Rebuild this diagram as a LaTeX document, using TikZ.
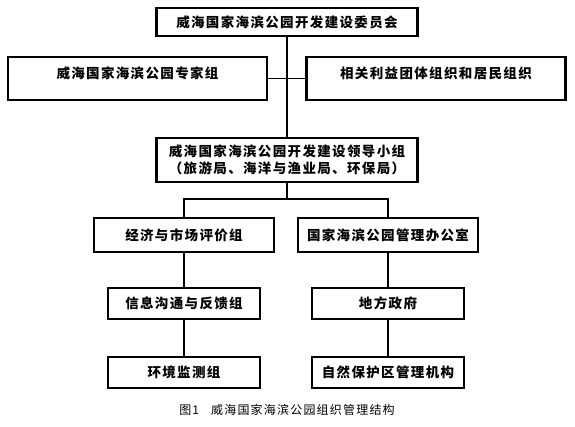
\documentclass[tikz,border=0pt]{standalone}
\usepackage{fontspec}
\newfontfamily\cjk[LetterSpace=10]{Noto Sans CJK SC}
\usetikzlibrary{positioning}

\begin{document}
\begin{tikzpicture}[
  x=1pt, y=-1pt,
  box/.style={draw, line width=2.4pt, inner sep=0pt, align=center,
    font=\cjk\bfseries\fontsize{13.5}{17}\selectfont},
  big/.style={box, minimum width=261pt, minimum height=28pt},
  wide/.style={box, minimum width=259pt, minimum height=43pt, text depth=11pt},
  mid/.style={box, minimum width=180pt, minimum height=34pt},
  small/.style={box, minimum width=152pt, minimum height=31pt},
  line/.style={line width=1.6pt},
  thin/.style={line width=1.1pt}
]
\useasboundingbox (0,0) rectangle (575,427);

% Committee and advisers
\node[big] (top) at (287,22) {威海国家海滨公园开发建设委员会};
\node[wide] (expert) at (137.5,78.5) {威海国家海滨公园专家组};
\node[wide] (group) at (436,78.5) {相关利益团体组织和居民组织};

% Leading group
\node[big, minimum height=44pt] (lead) at (287,160)
  {威海国家海滨公园开发建设领导小组\\（旅游局、海洋与渔业局、环保局）};

% Two branches
\node[mid] (econ) at (184,235) {经济与市场评价组};
\node[mid] (office) at (388,235) {国家海滨公园管理办公室};
\node[small] (info) at (184,303.5) {信息沟通与反馈组};
\node[small] (gov) at (388,303.5) {地方政府};
\node[small] (env) at (184,372.5) {环境监测组};
\node[small] (nature) at (388,372.5) {自然保护区管理机构};

% Caption
\node[font=\cjk\fontsize{12}{14}\selectfont] (cap) at (287,410)
  {图1\quad 威海国家海滨公园组织管理结构};

% Lines
\draw[line] (top.south) -- (lead.north);
\draw[line] (expert.east) -- (group.west);
\draw[line] (lead.south) -- ++(0,16) coordinate (split);
\draw[line] (econ.north) |- (split) -| (office.north);

\draw[thin] (econ) -- (info);
\draw[thin] (info) -- (env);
\draw[thin] (office) -- (gov);
\draw[thin] (gov) -- (nature);

\end{tikzpicture}
\end{document}
